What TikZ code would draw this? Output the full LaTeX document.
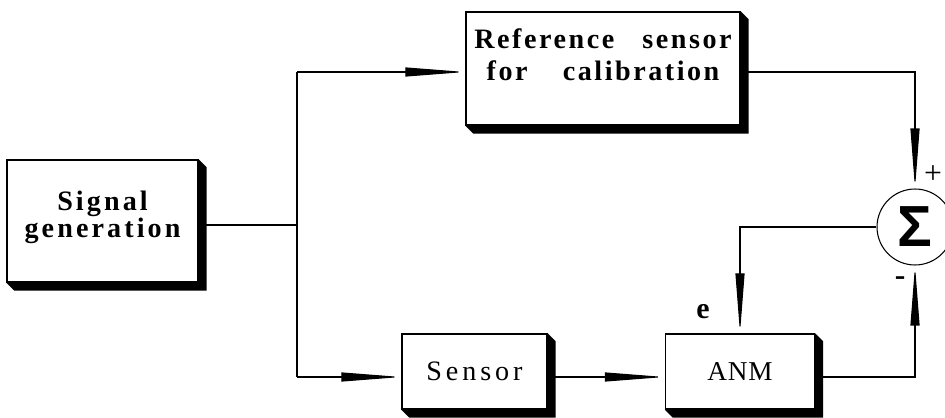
\documentclass[tikz,border=0pt]{standalone}
\usepackage{fontspec}
\setmainfont{Liberation Serif}
\newfontfamily\sumfont{Liberation Sans}
\usetikzlibrary{arrows.meta,calc,backgrounds}

\begin{document}
\begin{tikzpicture}[x=0.02cm, y=-0.02cm,
        block/.style={draw, fill=white, line width=0.8pt, inner sep=0pt, align=center},
        conn/.style={line width=0.6pt},
        arr/.style={conn, -{Triangle[length=1.2cm, width=0.18cm]}},
        sign/.style={inner sep=0pt, font=\fontsize{18}{18}\selectfont}]
        \def\d{8}
        \useasboundingbox (0,0) rectangle (945,418);
        % blocks
        \node[block, minimum width=3.82cm, minimum height=2.44cm,
            font={\bfseries\fontsize{16}{11.5}\selectfont\addfontfeature{LetterSpace=11}}]
            (sig) at (102.5,221) {Signal\\[-0.5pt]generation\\[-4pt]};
        \node[block, minimum width=5.48cm, minimum height=2.26cm,
            font={\bfseries\fontsize{16}{18}\selectfont\addfontfeature{LetterSpace=9}}]
            (ref) at (603,68.5) {Reference\hspace{16pt}sensor\\for\hspace{20pt}calibration\\[-2pt]};
        \node[block, minimum width=2.9cm, minimum height=1.5cm,
            font={\fontsize{16}{16}\selectfont\addfontfeature{LetterSpace=14}}]
            (sens) at (474.5,371.5) {Sensor};
        \node[block, minimum width=2.98cm, minimum height=1.5cm,
            font={\fontsize{15.5}{16}\selectfont\addfontfeature{LetterSpace=3}}]
            (anm) at (740,371.5) {ANM};
        \node[draw, circle, minimum size=1.52cm, inner sep=0pt, line width=0.6pt,
            font={\sumfont\bfseries\fontsize{33}{33}\selectfont}]
            (sum) at (915,227) {Σ};
        % shadows
        \begin{scope}[on background layer]
            \foreach \n in {sig,ref,sens,anm} {
                \fill (\n.south west) -- ++(\d,\d) -- ($(\n.south east)+(\d,\d)$)
                    -- ($(\n.north east)+(\d,\d)$) -- (\n.north east) -- cycle;
            }
        \end{scope}
        % labels
        \node[sign, font={\bfseries\fontsize{17}{17}\selectfont}] (elab) at (703,312) {e};
        \node[sign] (plus) at (933,175) {+};
        \node[sign, font={\bfseries\fontsize{18}{18}\selectfont}] (minus) at (900,281) {-};
        % connections
        \coordinate (jn) at (297,225);
        \coordinate (jtop) at (297,72);
        \coordinate (jbot) at (297,377);
        \draw[conn] (sig.east |- jn) -- (jn);
        \draw[conn] (jtop) -- (jbot);
        \draw[arr] (jtop) -- (ref.west |- jtop);
        \draw[arr] (jbot) -- (sens.west |- jbot);
        \draw[arr] (sens.east |- jbot) -- (anm.west |- jbot);
        \draw[arr] (ref.east |- jtop) -| (sum.north);
        \draw[arr] (anm.east |- jbot) -| (sum.south);
        \draw[arr] (sum.west) -| (anm.north);
\end{tikzpicture}
\end{document}
